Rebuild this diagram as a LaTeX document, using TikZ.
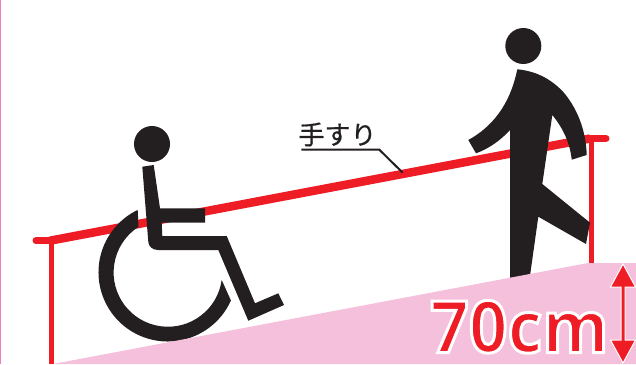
\documentclass[tikz,border=0pt]{standalone}
\usepackage{fontspec}
\setmainfont{Open Sans}
\newfontfamily\cjk[FakeBold=0.6]{Noto Sans CJK JP}
\newfontfamily\hgtfont[FakeStretch=0.94]{Open Sans Bold}
\definecolor{rred}{HTML}{EE1C25}
\definecolor{rblack}{HTML}{231F20}
\definecolor{rpink}{HTML}{F5C0DB}
\definecolor{redge}{HTML}{F07CC4}
\tikzset{
  figure/.style={fill=rblack,draw=none},
  railline/.style={draw=rred,line width=8.5pt,line join=round},
  railend/.style={draw=rred,line width=7pt,line cap=round},
  postline/.style={draw=rred,line width=5pt},
  leader/.style={draw=rblack,line width=2pt,line join=miter},
  dimarrow/.style={fill=rred,draw=white,line width=1pt,line join=miter}
}
\begin{document}
\begin{tikzpicture}[x=1pt,y=1pt,yscale=-1]
\useasboundingbox (0,0) rectangle (636,364);
\fill[white] (0,0) rectangle (636,364);
\fill[redge] (0,0) rectangle (1.2,364);
% posts and rail
\draw[postline] (51,240) -- (51,364);
\draw[postline] (591,138) -- (591,270);
\draw[railend] (36,240.7) -- (50,240.7);
\draw[railend] (590,138.5) -- (606,138.5);
\draw[railline] (50,240.7) -- (590,138.5);
% walking person
\fill[figure] (523.3,46) circle (18);
\fill[figure] (517.3,69.3) .. controls (535,71) and (550,78) .. (563.3,92)
  .. controls (577,108) and (586,130) .. (586.7,155)
  -- (571.7,159.7) .. controls (570,143) and (563,128) .. (552.3,115)
  -- (542.3,184) -- (590,222.7) -- (586,244) -- (538.3,216.7) -- (528,290) -- (510,290)
  -- (510,130) .. controls (500,141) and (488,149) .. (476,153.3)
  -- (468.3,140) .. controls (492,127) and (510,105) .. cycle;
% wheelchair user
\fill[figure] (152,144) circle (18);
\fill[figure] (142.3,166.7) -- (153.7,165) -- (160,208.3) -- (205,208.3) -- (205,222.7)
  -- (161.7,222.7) -- (162.3,236) -- (226.7,236) -- (255,303.3) -- (278.3,293.3)
  -- (284,305) -- (248.3,320.7) -- (218.3,250) -- (158,250)
  .. controls (152,250) and (148.5,246) .. (148.3,241.7) -- cycle;
\fill[figure] (167.7,272.3) ++(-115.7:69.2) arc[start angle=-115.7,end angle=-336,radius=69.2]
  -- (221.7,280) arc[start angle=-352,end angle=-122.8,radius=54.3] -- cycle;
% slope
\fill[rpink] (53,364) -- (588,263) -- (636,263) -- (636,364) -- cycle;
% handrail label
\node[inner sep=0pt,anchor=center,font=\cjk\fontsize{26}{26}\selectfont,text=rblack] (lbl) at (337.5,134.5) {手すり};
\coordinate (l1) at (301.3,149.7);
\coordinate (l2) at (379.3,149.7);
\coordinate (l3) at (402.7,172.7);
\draw[leader] (l1) -- (l2) -- (l3);
% height
\node[inner sep=0pt,anchor=base west,text=rred,font=\hgtfont\fontsize{72}{72}\selectfont] (hgt) at (430,352.5)
  {\special{pdf:code q 1 1 1 RG 3 w 2 Tr}70cm\special{pdf:code 0 Tr Q}};
\draw[dimarrow] (623,264) -- (635.5,287) -- (625,287) -- (625,340) -- (635.5,340) -- (623,363)
  -- (610.5,340) -- (621,340) -- (621,287) -- (610.5,287) -- cycle;
\end{tikzpicture}
\end{document}
